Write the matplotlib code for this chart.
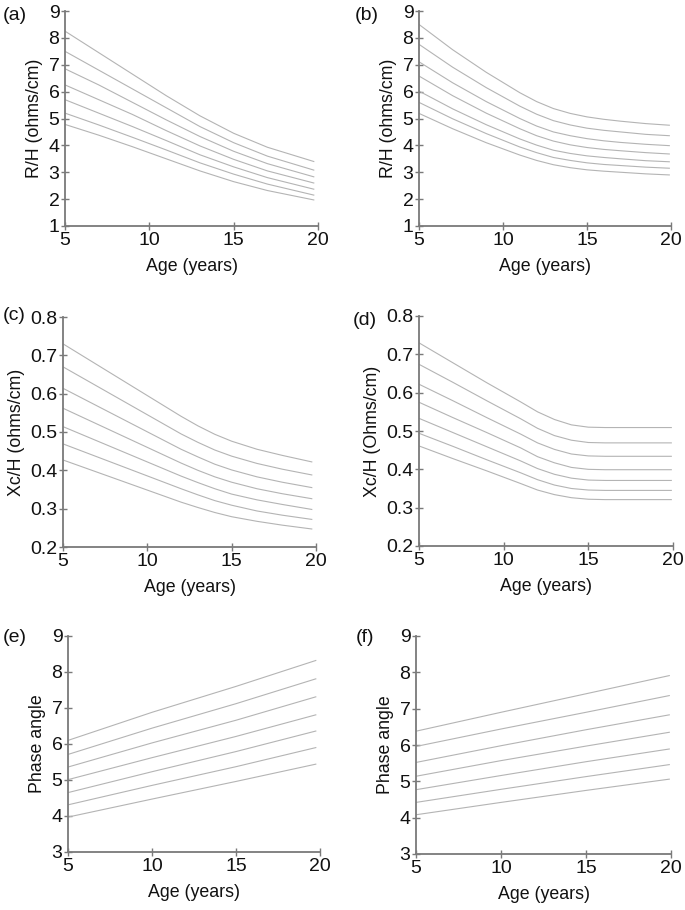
import matplotlib
matplotlib.use("Agg")
import matplotlib.pyplot as plt

plt.rcParams['font.family'] = ['Liberation Sans', 'DejaVu Sans']

ages_a = [5, 7, 9, 11, 13, 15, 17, 19.75]
ages_b = [5, 7, 9, 11, 12, 13, 14, 15, 16, 17, 18.5, 19.9]
ages_c = [5, 12, 13, 14, 15, 16.5, 18, 19.75]
ages_d = [5, 7, 9, 11, 12, 13, 14, 15, 16, 19.9]
ages_e = [5, 10, 15, 19.75]
ages_f = [5, 10, 15, 19.9]

# (a) R/H
rh_a = [
    [8.25, 7.45, 6.65, 5.85, 5.10, 4.45, 3.93, 3.40],
    [7.50, 6.80, 6.10, 5.40, 4.70, 4.10, 3.60, 3.08],
    [6.85, 6.25, 5.60, 4.95, 4.33, 3.78, 3.32, 2.83],
    [6.25, 5.70, 5.15, 4.55, 3.98, 3.48, 3.05, 2.60],
    [5.70, 5.20, 4.70, 4.18, 3.65, 3.20, 2.80, 2.37],
    [5.20, 4.76, 4.30, 3.83, 3.35, 2.93, 2.56, 2.15],
    [4.78, 4.38, 3.95, 3.50, 3.05, 2.65, 2.32, 1.97],
]
# (b) R/H
rh_b = [
    [8.50, 7.56, 6.72, 5.96, 5.63, 5.37, 5.19, 5.06, 4.97, 4.90, 4.81, 4.75],
    [7.76, 6.91, 6.15, 5.46, 5.16, 4.92, 4.76, 4.64, 4.56, 4.50, 4.41, 4.36],
    [7.11, 6.33, 5.63, 5.00, 4.72, 4.50, 4.36, 4.25, 4.17, 4.11, 4.04, 3.99],
    [6.58, 5.85, 5.20, 4.62, 4.36, 4.16, 4.02, 3.92, 3.85, 3.80, 3.73, 3.68],
    [6.02, 5.36, 4.77, 4.24, 4.01, 3.82, 3.70, 3.61, 3.55, 3.50, 3.43, 3.39],
    [5.60, 4.99, 4.44, 3.94, 3.73, 3.55, 3.44, 3.35, 3.29, 3.25, 3.19, 3.15],
    [5.19, 4.62, 4.10, 3.64, 3.44, 3.28, 3.17, 3.09, 3.04, 3.00, 2.94, 2.90],
]
# (c) Xc/H
xc_c = [
    [0.730, 0.541, 0.516, 0.494, 0.476, 0.455, 0.439, 0.422],
    [0.670, 0.495, 0.473, 0.453, 0.437, 0.418, 0.403, 0.388],
    [0.614, 0.455, 0.435, 0.416, 0.401, 0.383, 0.369, 0.355],
    [0.562, 0.419, 0.400, 0.383, 0.369, 0.352, 0.339, 0.326],
    [0.514, 0.385, 0.368, 0.352, 0.338, 0.323, 0.311, 0.298],
    [0.469, 0.352, 0.336, 0.321, 0.309, 0.294, 0.283, 0.272],
    [0.427, 0.317, 0.303, 0.290, 0.279, 0.267, 0.257, 0.247],
]
# (d) Xc/H
xc_d = [
    [0.730, 0.678, 0.626, 0.576, 0.550, 0.530, 0.516, 0.510, 0.509, 0.509],
    [0.674, 0.627, 0.579, 0.532, 0.507, 0.488, 0.476, 0.470, 0.469, 0.469],
    [0.622, 0.579, 0.535, 0.492, 0.469, 0.452, 0.440, 0.435, 0.434, 0.434],
    [0.575, 0.535, 0.496, 0.456, 0.433, 0.417, 0.405, 0.400, 0.399, 0.399],
    [0.533, 0.496, 0.459, 0.422, 0.402, 0.387, 0.377, 0.372, 0.371, 0.371],
    [0.494, 0.460, 0.425, 0.391, 0.373, 0.359, 0.350, 0.346, 0.345, 0.345],
    [0.461, 0.428, 0.396, 0.363, 0.346, 0.334, 0.326, 0.322, 0.321, 0.321],
]
# (e) phase angle
pa_e = [
    [6.10, 6.88, 7.60, 8.32],
    [5.71, 6.44, 7.12, 7.81],
    [5.36, 6.03, 6.66, 7.31],
    [5.01, 5.62, 6.21, 6.81],
    [4.65, 5.23, 5.79, 6.36],
    [4.31, 4.85, 5.37, 5.90],
    [3.97, 4.47, 4.96, 5.44],
]
# (f) phase angle
pa_f = [
    [6.38, 6.90, 7.41, 7.91],
    [5.96, 6.44, 6.90, 7.36],
    [5.52, 5.98, 6.42, 6.83],
    [5.14, 5.57, 5.97, 6.35],
    [4.77, 5.16, 5.54, 5.89],
    [4.42, 4.78, 5.13, 5.46],
    [4.08, 4.42, 4.75, 5.06],
]

W, H = 685, 910
fig = plt.figure(figsize=(W / 100, H / 100), dpi=100)


def px_axes(x0, x1, y0, y1):
    # pixel box (left, right, top, bottom) -> figure fraction
    return fig.add_axes([x0 / W, 1 - y1 / H, (x1 - x0) / W, (y1 - y0) / H])


xc_ticks = [0.2, 0.3, 0.4, 0.5, 0.6, 0.7, 0.8]
panels = [
    ('(a)', (3, 15), (65, 318, 11, 226), ages_a, rh_a, (1, 9), list(range(1, 10)), 'R/H (ohms/cm)'),
    ('(b)', (355, 15), (419, 671, 11, 226), ages_b, rh_b, (1, 9), list(range(1, 10)), 'R/H (ohms/cm)'),
    ('(c)', (3, 315), (63, 316, 317, 547), ages_c, xc_c, (0.2, 0.8), xc_ticks, 'Xc/H (ohms/cm)'),
    ('(d)', (353, 320), (419, 673, 316, 546), ages_d, xc_d, (0.2, 0.8), xc_ticks, 'Xc/H (Ohms/cm)'),
    ('(e)', (3, 637), (68, 320, 636, 852), ages_e, pa_e, (3, 9), list(range(3, 10)), 'Phase angle'),
    ('(f)', (356, 637), (416, 671, 636, 854), ages_f, pa_f, (3, 9), list(range(3, 10)), 'Phase angle'),
]

spine_col = '#7a7a7a'
line_col = '#b4b4b4'
text_col = '#111111'

for tag, tag_xy, box, ages, curves, ylim, yticks, ylabel in panels:
    ax = px_axes(*box)
    for c in curves:
        ax.plot(ages, c, color=line_col, lw=0.8)
    ax.set_xlim(5, 20)
    ax.set_ylim(*ylim)
    ax.set_xticks([5, 10, 15, 20])
    ax.set_yticks(yticks)
    if ylim[1] < 1:
        ax.set_yticklabels(['%.1f' % t for t in yticks])
    for s in ['top', 'right']:
        ax.spines[s].set_visible(False)
    for s in ['left', 'bottom']:
        ax.spines[s].set_color(spine_col)
        ax.spines[s].set_linewidth(1.3)
    ax.tick_params(direction='inout', length=6, width=1.0, color=spine_col,
                   labelsize=14, pad=1, labelcolor=text_col)
    ax.set_xlabel('Age (years)', fontsize=12.8, labelpad=7, color=text_col)
    ax.set_ylabel(ylabel, fontsize=12.8, labelpad=4, color=text_col)
    fig.text(tag_xy[0] / W, 1 - tag_xy[1] / H, tag, fontsize=14,
             ha='left', va='center', color=text_col)

fig.savefig('out.png', dpi=100)
